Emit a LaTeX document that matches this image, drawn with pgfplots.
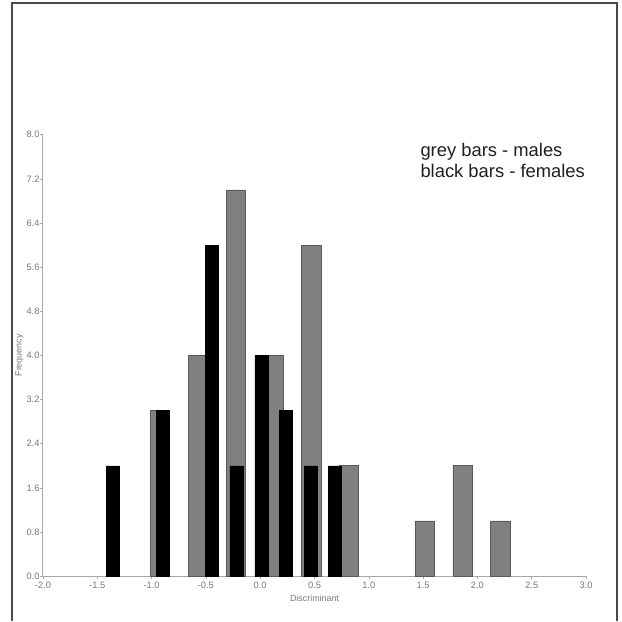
\documentclass[border=0pt]{standalone}
\usepackage{fontspec}
\setmainfont{Liberation Sans}
\usepackage{pgfplots}
\pgfplotsset{compat=1.18}
\definecolor{barg}{HTML}{808080}
\definecolor{bargedge}{HTML}{5A5A5A}
\definecolor{axg}{HTML}{A8A8A8}
\definecolor{tickg}{HTML}{777777}
\definecolor{frameg}{HTML}{4A4A4A}
\begin{document}
\begin{tikzpicture}[x=1pt,y=1pt]
\path (0,0) rectangle (622,622);
\draw[frameg, line width=2pt] (12,0) -- (12,619) -- (618,619) -- (618,0);
\begin{axis}[at={(43pt,45pt)}, anchor=south west, scale only axis,
 width=544pt, height=442pt,
 xmin=-2, xmax=3, ymin=0, ymax=8,
 axis lines*=left, axis line style={axg, line width=1pt},
 xtick={-2,-1.5,-1,-0.5,0,0.5,1,1.5,2,2.5,3},
 ytick={0,0.8,1.6,2.4,3.2,4,4.8,5.6,6.4,7.2,8},
 tick style={axg, line width=0.6pt}, tick align=outside, major tick length=2.5pt,
 ticklabel style={font=\fontsize{9.3}{10}\selectfont, text=tickg},
 yticklabel style={inner sep=0.8pt},
 /pgf/number format/fixed, /pgf/number format/fixed zerofill,
 /pgf/number format/precision=1, /pgf/number format/assume math mode=true,
 xlabel={Discriminant}, ylabel={Frequency},
 label style={font=\fontsize{8.9}{10}\selectfont, text=tickg},
 xlabel style={at={(axis description cs:0.5,-0.05)}, anchor=center},
 ylabel style={at={(axis description cs:-0.043,0.5)}, anchor=center},
 clip=false]
\addplot[ybar, bar shift=0pt, bar width=0.177, fill=barg, draw=bargedge, line width=0.6pt]
 coordinates {(-0.922,3) (-0.574,4) (-0.226,7) (0.122,4) (0.470,6) (0.818,2) (1.514,1) (1.862,2) (2.210,1)};
\addplot[ybar, bar shift=0pt, bar width=0.118, fill=black, draw=black, line width=0.4pt]
 coordinates {(-1.36,2) (-0.896,3) (-0.449,6) (-0.219,2) (0.011,4) (0.236,3) (0.465,2) (0.688,2)};
\end{axis}
\node[anchor=base west, font=\fontsize{18.4}{21}\selectfont, text=black!88, inner sep=0pt] at (421,465) {grey bars - males};
\node[anchor=base west, font=\fontsize{18.4}{21}\selectfont, text=black!88, inner sep=0pt] at (421,444) {black bars - females};
\end{tikzpicture}
\end{document}
